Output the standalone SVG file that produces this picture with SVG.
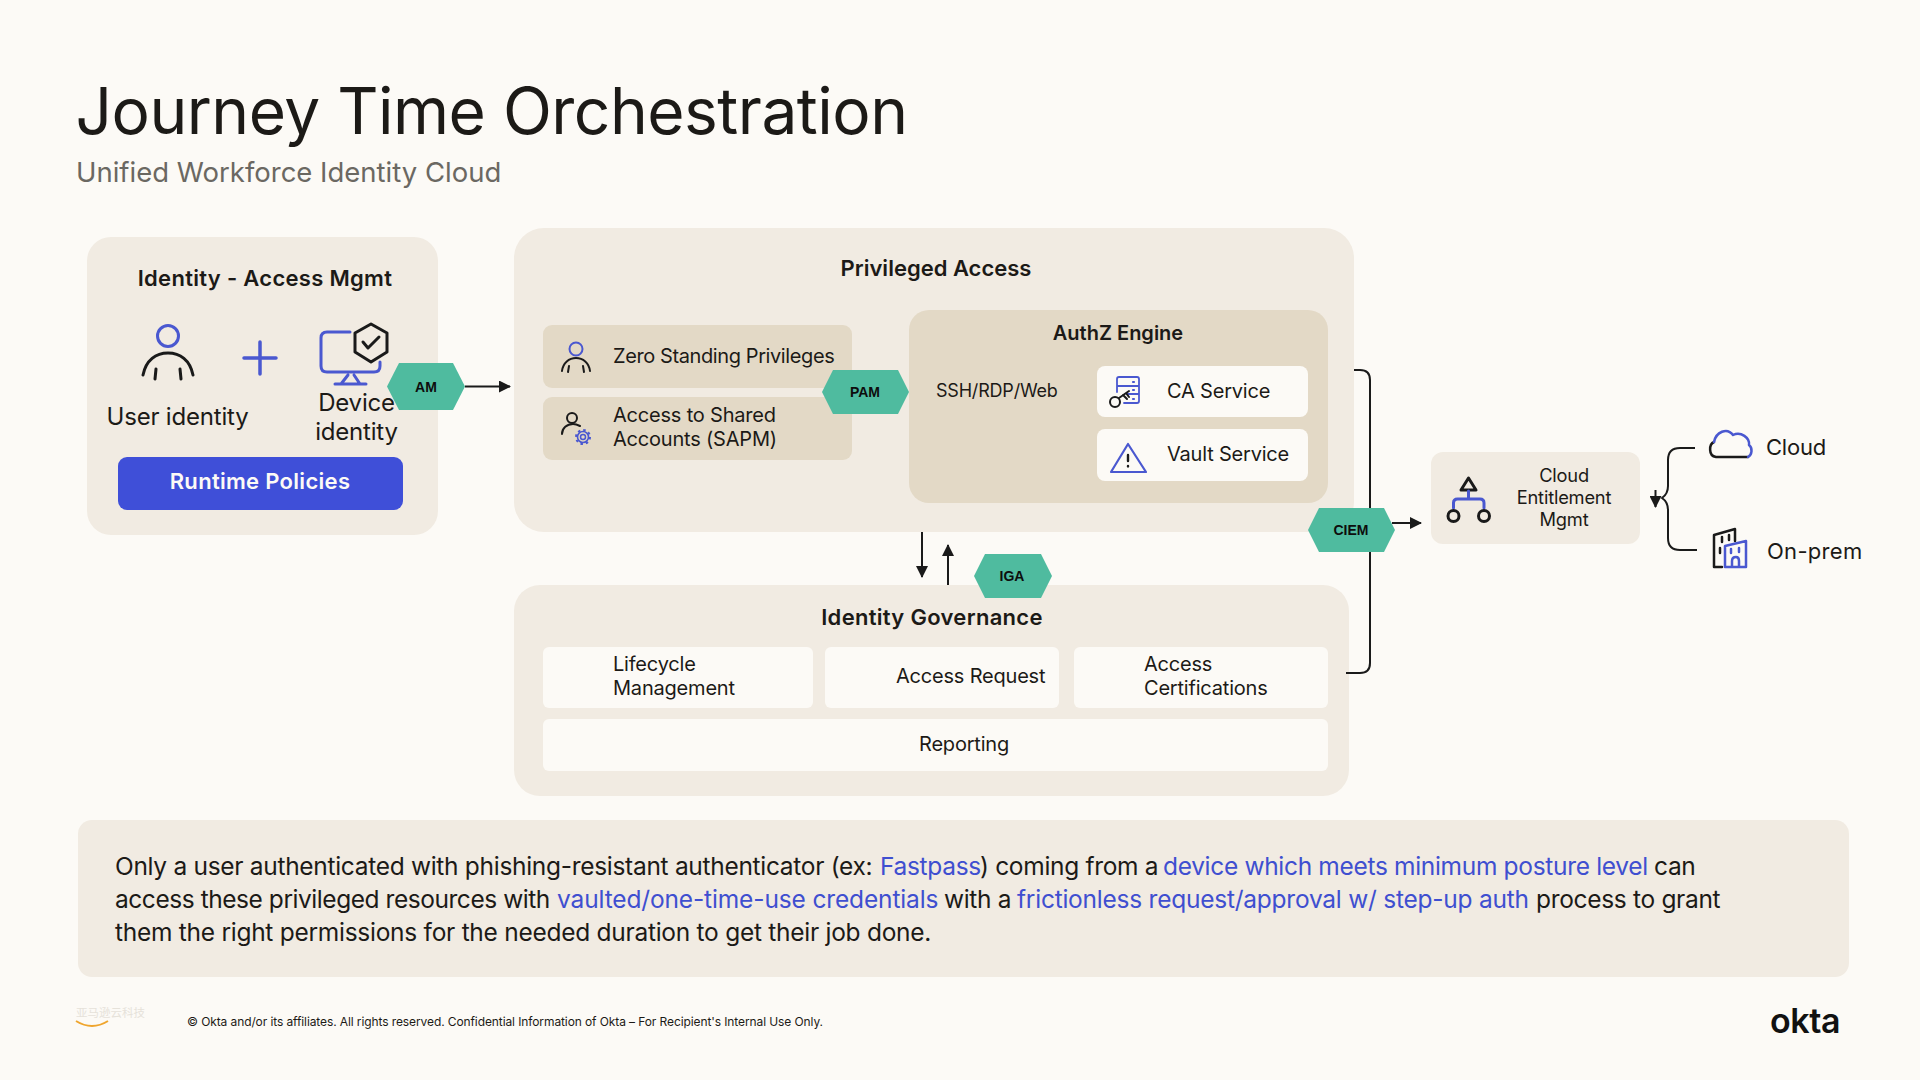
<svg xmlns="http://www.w3.org/2000/svg" width="1920" height="1080" viewBox="0 0 1920 1080">
<defs>
<marker id="ah" viewBox="0 0 12 12" refX="11" refY="6" markerWidth="12" markerHeight="12" markerUnits="userSpaceOnUse" orient="auto"><path d="M0 0L12 6L0 12Z" fill="#1a1a1a"/></marker>
</defs>
<style>
text{font-family:"Inter","Noto Sans",sans-serif;fill:#1c1a17}
.t{font-size:20px;letter-spacing:-.2px}
.h{font-size:22px;font-weight:600;text-anchor:middle;letter-spacing:.3px}
.m{text-anchor:middle}
.hx{fill:#4FBB9F}
.hl{font-family:"Liberation Sans",Arial,sans-serif;font-size:14px;font-weight:700;text-anchor:middle;fill:#0d0d0d}
.p{fill:#F1EBE2}.tan{fill:#E3D9C6}.w{fill:#FCFAF6}
.bk{fill:none;stroke:#1a1a1a;stroke-linecap:round;stroke-linejoin:round}
.bl{fill:none;stroke:#4A58D0;stroke-linecap:round;stroke-linejoin:round}
.c{fill:none;stroke:#1a1a1a;stroke-width:2}
.b{font-size:24.5px;letter-spacing:-.32px}
.lk{fill:#3F4FD0}
</style>
<rect width="1920" height="1080" fill="#FCFAF6"/>
<g id="header">
<text x="75.500" y="134" font-size="64" letter-spacing="-.5">Journey Time Orchestration</text>
<text x="76" y="182" font-size="27.5" letter-spacing="0" style="fill:#6b6862">Unified Workforce Identity Cloud</text>
</g>
<g id="identity-access-mgmt">
<rect class="p" x="87" y="237" width="351" height="298" rx="24"/>
<text class="h" x="265" y="286">Identity - Access Mgmt</text>
<circle class="bl" cx="168" cy="336" r="10.5" stroke-width="3"/>
<path class="bk" stroke-width="3" d="M143 375C146 360 156 353 168 353C180 353 190 360 193 375M156 369L155 379M180 369L181 379"/>
<path class="bl" stroke-width="3.500" d="M260 342V374M244 358H276"/>
<path class="bl" stroke-width="3" d="M350 332H327Q321 332 321 338V366Q321 372 327 372H374Q380 372 380 366V362M335 384H366M348 375L341 384M354 375L360 384"/>
<path class="bk" stroke-width="3" d="M371 324L387 333V352L371 362L355 352V333Z"/>
<path class="bk" stroke-width="3" d="M363 342L368 348L379 337"/>
<text class="t m" x="177.500" y="425" style="font-size:24px">User identity</text>
<text class="t m" x="356.500" y="411" style="font-size:24px">Device</text>
<text class="t m" x="356.500" y="440" style="font-size:24px">identity</text>
<rect x="118" y="457" width="285" height="53" rx="9" fill="#3F4FD8"/>
<text class="h" x="260" y="489" style="fill:#FCFAF6">Runtime Policies</text>
</g>
<g id="privileged-access">
<rect class="p" x="514" y="228" width="840" height="304" rx="30"/>
<text class="h" x="936" y="276" style="letter-spacing:0">Privileged Access</text>
<rect class="tan" x="543" y="325" width="309" height="63" rx="9"/>
<rect class="tan" x="543" y="397" width="309" height="63" rx="9"/>
<circle class="bl" cx="576" cy="349" r="6.5" stroke-width="2"/>
<path class="bk" stroke-width="2" d="M562 371C563 363 569 358 576 358C583 358 589 363 590 371M569 366L568 372M583 366L584 372"/>
<circle class="bk" cx="572" cy="418" r="5" stroke-width="2"/>
<path class="bk" stroke-width="2" d="M562 434C562 428 567 424 573 424C576 424 578 425 580 426"/>
<circle class="bl" cx="583" cy="437" r="2.5" stroke-width="1.5"/>
<circle class="bl" cx="583" cy="437" r="5.500" stroke-width="1.6"/>
<circle cx="583" cy="437" r="7" fill="none" stroke="#4A58D0" stroke-width="2" stroke-dasharray="2.500 3"/>
<text class="t" x="613" y="363" style="letter-spacing:-.4px">Zero Standing Privileges</text>
<text class="t" x="613" y="422">Access to Shared</text>
<text class="t" x="613" y="446">Accounts (SAPM)</text>
</g>
<g id="authz-engine">
<rect class="tan" x="909" y="310" width="419" height="193" rx="20"/>
<text class="h" x="1118" y="340" style="font-size:20px;letter-spacing:0">AuthZ Engine</text>
<text class="t" x="936" y="397" style="font-size:18px">SSH/RDP/Web</text>
<rect class="w" x="1097" y="366" width="211" height="51" rx="8"/>
<rect class="w" x="1097" y="429" width="211" height="52" rx="8"/>
<path class="bl" stroke-width="1.8" d="M1117 392V379Q1117 377 1119 377H1137Q1139 377 1139 379V401Q1139 403 1137 403H1124M1117 386H1139M1127 394H1139"/>
<path class="bl" stroke-width="2.2" d="M1133 382H1134M1133 390H1134M1133 399H1134"/>
<circle class="bk" cx="1115" cy="402" r="5" stroke-width="2"/>
<path class="bk" stroke-width="2" d="M1119 398L1129 391M1123 395L1127 399M1126 393L1129 397"/>
<text class="t" x="1167" y="398">CA Service</text>
<path class="bl" stroke-width="2.2" d="M1128 444L1146 472H1111Z"/>
<path class="bk" stroke-width="2.4" d="M1128 455V461M1128 466V466.4"/>
<text class="t" x="1167" y="461">Vault Service</text>
</g>
<g id="identity-governance">
<rect class="p" x="514" y="585" width="835" height="211" rx="26"/>
<text class="h" x="932" y="625">Identity Governance</text>
<rect class="w" x="543" y="647" width="270" height="61" rx="6"/>
<rect class="w" x="825" y="647" width="234" height="61" rx="6"/>
<rect class="w" x="1074" y="647" width="254" height="61" rx="6"/>
<rect class="w" x="543" y="719" width="785" height="52" rx="6"/>
<text class="t" x="613" y="671">Lifecycle</text>
<text class="t" x="613" y="695">Management</text>
<text class="t" x="896" y="683">Access Request</text>
<text class="t" x="1144" y="671">Access</text>
<text class="t" x="1144" y="695">Certifications</text>
<text class="t m" x="964" y="751">Reporting</text>
</g>
<g id="connectors">
<path class="c" d="M465 386.5H510" marker-end="url(#ah)"/>
<path class="c" d="M922 532V577" marker-end="url(#ah)" stroke-width="2.5"/>
<path class="c" d="M948 585V545" marker-end="url(#ah)" stroke-width="2.5"/>
<path class="c" d="M1354 370H1360Q1370 370 1370 380V663Q1370 673 1360 673H1346"/>
<path class="c" d="M1392 523H1421" marker-end="url(#ah)"/>
<path class="c" d="M1695 448H1680Q1668 448 1668 460V486Q1668 494 1662 498Q1668 502 1668 510V538Q1668 550 1680 550H1697"/>
<path class="c" d="M1655.500 490V507" marker-end="url(#ah)"/>
</g>
<g id="am"><polygon class="hx" points="387,386.500 399,363 453,363 465,386.500 453,410 399,410"/><text class="hl" x="426" y="392">AM</text></g>
<g id="pam"><polygon class="hx" points="822,392 833,370 898,370 909,392 898,414 833,414"/><text class="hl" x="865" y="397">PAM</text></g>
<g id="iga"><polygon class="hx" points="974,576 985,554 1041,554 1052,576 1041,598 985,598"/><text class="hl" x="1012" y="581">IGA</text></g>
<g id="ciem"><polygon class="hx" points="1308,530 1319,508 1384,508 1395,530 1384,552 1319,552"/><text class="hl" x="1351" y="535">CIEM</text></g>
<g id="cloud-entitlement-mgmt">
<rect class="p" x="1431" y="452" width="209" height="92" rx="12"/>
<path class="bk" stroke-width="3" d="M1468.500 478L1476 490H1461Z"/>
<path class="bl" stroke-width="3" d="M1468.500 491V499M1453.500 508V503Q1453.500 499 1457.500 499H1480Q1484 499 1484 503V508"/>
<circle class="bk" cx="1453.500" cy="516" r="5.500" stroke-width="3"/>
<circle class="bk" cx="1484" cy="516" r="5.500" stroke-width="3"/>
<text class="t m" x="1564" y="482" style="font-size:18.300px">Cloud</text>
<text class="t m" x="1564" y="504" style="font-size:18.300px">Entitlement</text>
<text class="t m" x="1564" y="526" style="font-size:18.300px">Mgmt</text>
</g>
<g id="cloud">
<path class="bk" stroke-width="2.500" d="M1714 442C1709 444 1708 456 1716 457H1748"/>
<path class="bl" stroke-width="2.500" d="M1714 442C1716 432 1727 427 1733 435C1741 431 1750 438 1749 445C1753 448 1752 455 1748 457"/>
<text class="t" x="1766" y="455" style="font-size:22px">Cloud</text>
</g>
<g id="on-prem">
<path class="bk" stroke-width="2.500" d="M1722 567H1714V535L1735 529V541M1722 537V542M1729 535V540M1720 548V553"/>
<path class="bl" stroke-width="2.500" d="M1725 546L1746 541V567H1725ZM1732 567V561Q1732 557 1736 557Q1739 557 1739 561V567M1731 549V553M1739 548V552"/>
<text class="t" x="1767" y="559" style="font-size:22px;letter-spacing:.3px">On-prem</text>
</g>
<g id="summary">
<rect x="78" y="820" width="1771" height="157" rx="14" class="p"/>
<text class="b" y="875"><tspan x="115" style="letter-spacing:-.3px">Only a user authenticated with phishing-resistant authenticator (ex:</tspan><tspan x="880" class="lk">Fastpass</tspan><tspan x="980">) coming from a</tspan><tspan x="1163" class="lk">device which meets minimum posture level</tspan><tspan x="1654">can</tspan></text>
<text class="b" y="908"><tspan x="115" style="letter-spacing:-.45px">access these privileged resources with</tspan><tspan x="557" class="lk" style="letter-spacing:-.14px">vaulted/one-time-use credentials</tspan><tspan x="944">with a</tspan><tspan x="1017" class="lk" style="letter-spacing:-.24px">frictionless request/approval w/ step-up auth</tspan><tspan x="1536">process to grant</tspan></text>
<text class="b" y="941" style="letter-spacing:-.27px"><tspan x="115">them the right permissions for the needed duration to get their job done.</tspan></text>
</g>
<g id="footer">
<text x="76" y="1017" font-size="11.500" style="font-family:'Noto Sans CJK SC',sans-serif;fill:#E6E2DA">亚马逊云科技</text>
<path d="M76 1021Q92 1031 108 1021" fill="none" stroke="#EFA52E" stroke-width="2"/>
<text x="187" y="1026" font-size="12" letter-spacing="-.1">© Okta and/or its affiliates. All rights reserved. Confidential Information of Okta – For Recipient's Internal Use Only.</text>
<text x="1770" y="1033" font-size="34" font-weight="600" letter-spacing="-.4" style="fill:#111">okta</text>
</g>
</svg>
